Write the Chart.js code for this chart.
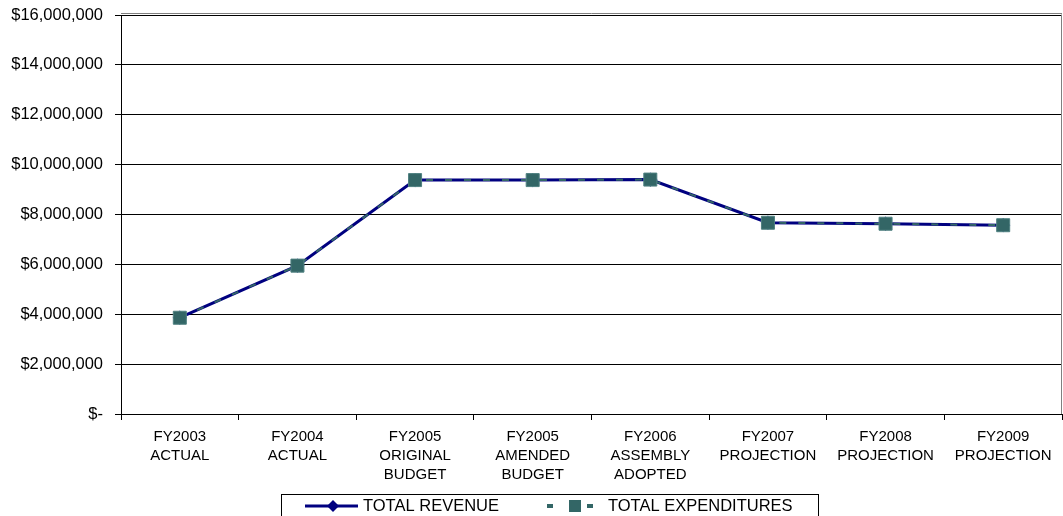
<!DOCTYPE html>
<html>
<head>
<meta charset="utf-8">
<script src="https://cdn.jsdelivr.net/npm/chart.js@4/dist/chart.umd.min.js"></script>
<style>
html,body{margin:0;padding:0;background:#fff;}
canvas{display:block;}
</style>
</head>
<body>
<canvas id="c" width="1063" height="516"></canvas>
<script>
const categories = [
  ["FY2003","ACTUAL"],
  ["FY2004","ACTUAL"],
  ["FY2005","ORIGINAL","BUDGET"],
  ["FY2005","AMENDED","BUDGET"],
  ["FY2006","ASSEMBLY","ADOPTED"],
  ["FY2007","PROJECTION"],
  ["FY2008","PROJECTION"],
  ["FY2009","PROJECTION"]
];
const totalRevenue = [3860000, 5950000, 9380000, 9380000, 9400000, 7670000, 7630000, 7570000];
const totalExpenditures = [3860000, 5950000, 9380000, 9380000, 9400000, 7670000, 7630000, 7570000];
const seriesNames = ["TOTAL REVENUE", "TOTAL EXPENDITURES"];
const yTicks = [0, 2000000, 4000000, 6000000, 8000000, 10000000, 12000000, 14000000, 16000000];

const FONT = "'Liberation Sans', Arial, sans-serif";
const NAVY = '#000080';
const TEAL = '#336666';

function fmt(v){
  if (v === 0) return '$-';
  return '$' + v.toLocaleString('en-US');
}

function noAutoPad(s){
  s.paddingTop = 0; s.paddingBottom = 0; s.paddingLeft = 0; s.paddingRight = 0;
}

const plotBorder = {
  id: 'plotBorder',
  beforeDatasetsDraw(chart){
    const {ctx, chartArea:a} = chart;
    ctx.save();
    ctx.strokeStyle = '#808080';
    ctx.lineWidth = 1;
    ctx.beginPath();
    ctx.moveTo(Math.round(a.right) - 0.5, Math.round(a.top) - 0.5);
    ctx.lineTo(Math.round(a.right) - 0.5, Math.round(a.bottom));
    ctx.moveTo(Math.round(a.left), Math.round(a.top) - 1.5);
    ctx.lineTo(Math.round(a.right), Math.round(a.top) - 1.5);
    ctx.stroke();
    ctx.restore();
  }
};

const customLegend = {
  id: 'customLegend',
  afterDraw(chart){
    const ctx = chart.ctx;
    const ds = chart.data.datasets;
    ctx.save();
    ctx.strokeStyle = '#000';
    ctx.lineWidth = 1;
    ctx.strokeRect(281.5, 494.5, 537, 30);
    const cy = 506;
    ctx.strokeStyle = ds[0].borderColor;
    ctx.lineWidth = 3;
    ctx.beginPath(); ctx.moveTo(305, cy); ctx.lineTo(358, cy); ctx.stroke();
    ctx.fillStyle = ds[0].borderColor;
    ctx.beginPath();
    ctx.moveTo(333, cy-6); ctx.lineTo(339, cy); ctx.lineTo(333, cy+6); ctx.lineTo(327, cy); ctx.closePath(); ctx.fill();
    ctx.fillStyle = ds[1].borderColor;
    ctx.fillRect(547, cy-2, 6, 4);
    ctx.fillRect(587, cy-2, 6, 4);
    ctx.fillRect(569, cy-6, 12, 12);
    ctx.fillStyle = '#000';
    ctx.font = '16.5px ' + FONT;
    ctx.textBaseline = 'middle';
    ctx.textAlign = 'left';
    ctx.fillText(ds[0].label, 363, cy);
    ctx.fillText(ds[1].label, 608, cy);
    ctx.restore();
  }
};

new Chart(document.getElementById('c'), {
  type: 'line',
  data: {
    labels: categories,
    datasets: [
      {
        label: seriesNames[0],
        data: totalRevenue,
        borderColor: NAVY,
        backgroundColor: NAVY,
        borderWidth: 3,
        pointStyle: 'rectRot',
        pointRadius: 5,
        pointBackgroundColor: NAVY,
        pointBorderColor: NAVY,
        tension: 0,
        order: 1
      },
      {
        label: seriesNames[1],
        data: totalExpenditures,
        borderColor: TEAL,
        backgroundColor: TEAL,
        borderWidth: 2,
        borderDash: [7, 12],
        pointStyle: 'rect',
        pointRadius: 9.2,
        pointBackgroundColor: TEAL,
        pointBorderColor: '#4f8080',
        pointBorderWidth: 1,
        tension: 0,
        order: 0
      }
    ]
  },
  options: {
    responsive: false,
    animation: false,
    devicePixelRatio: 1,
    layout: { autoPadding: false, padding: { top: 15, right: 1, bottom: 26, left: 0 } },
    plugins: {
      legend: { display: false },
      tooltip: { enabled: false }
    },
    scales: {
      x: {
        offset: true,
        grid: { display: true, drawOnChartArea: false, drawTicks: true, tickLength: 6, tickColor: '#000', offset: true, color: '#000' },
        border: { display: true, color: '#000', width: 1 },
        ticks: {
          color: '#000',
          font: { family: FONT, size: 15, lineHeight: 1.27 },
          padding: 7,
          maxRotation: 0,
          autoSkip: false
        },
        afterFit(s){ s.height = 76; noAutoPad(s); }
      },
      y: {
        min: 0,
        max: 16000000,
        afterBuildTicks(s){ s.ticks = yTicks.map(v => ({value: v})); },
        grid: { color: '#000', lineWidth: 1, tickLength: 6, tickColor: '#000' },
        border: { display: true, color: '#000', width: 1 },
        ticks: {
          color: '#000',
          font: { family: FONT, size: 16.5 },
          padding: 12,
          callback: (v) => fmt(v)
        },
        afterFit(s){ s.width = 121; noAutoPad(s); }
      }
    }
  },
  plugins: [plotBorder, customLegend]
});
</script>
</body>
</html>
